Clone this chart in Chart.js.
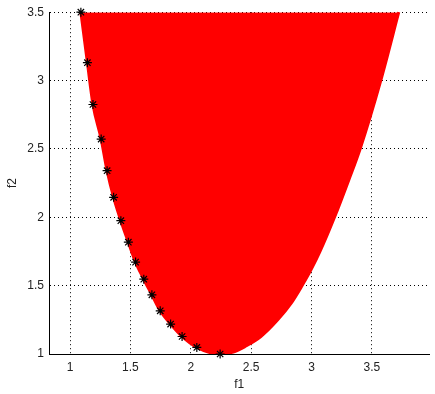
<!DOCTYPE html>
<html>
<head>
<meta charset="utf-8">
<script src="https://cdn.jsdelivr.net/npm/chart.js@4"></script>
<style>
  html, body { margin: 0; padding: 0; background: #fff; }
  #wrap { width: 435px; height: 394px; }
</style>
</head>
<body>
<div id="wrap"><canvas id="myChart"></canvas></div>
<script>
// Pareto front (black stars)
const frontF1 = [1.09, 1.144, 1.19, 1.258, 1.307, 1.361, 1.421, 1.483, 1.543, 1.611, 1.678, 1.747, 1.833, 1.928, 2.05, 2.243];
const frontF2 = [3.5, 3.131, 2.825, 2.572, 2.341, 2.146, 1.975, 1.818, 1.672, 1.547, 1.433, 1.316, 1.219, 1.128, 1.048, 1.0];

// right-hand edge of the red cloud of solutions (from the bottom up)
const cloudRightF1 = [2.37, 2.45, 2.58, 2.72, 2.83, 2.915, 2.995, 3.07, 3.19, 3.307, 3.402, 3.573, 3.722];
const cloudRightF2 = [1.02, 1.055, 1.128, 1.25, 1.37, 1.49, 1.615, 1.75, 2.0, 2.27, 2.5, 3.0, 3.5];

const xTicks = [1, 1.5, 2, 2.5, 3, 3.5];
const yTicks = [1, 1.5, 2, 2.5, 3, 3.5];

const toPoints = (xs, ys) => xs.map((x, i) => ({ x: x, y: ys[i] }));

const frontPts = toPoints(frontF1, frontF2);
const cloudEdge = frontPts.concat(toPoints(cloudRightF1, cloudRightF2));

const font = { family: "'Liberation Sans', Arial, sans-serif", size: 12 };

const config = {
    type: 'scatter',
    data: {
        datasets: [
            {
                data: frontPts,
                pointStyle: 'star',
                pointRadius: 4.5,
                pointBorderColor: '#000',
                pointBorderWidth: 1.2,
                showLine: false,
                clip: false
            },
            {
                data: cloudEdge,
                showLine: true,
                pointRadius: 0,
                borderColor: '#ff0000',
                borderWidth: 3,
                backgroundColor: '#ff0000',
                fill: 'end',
                cubicInterpolationMode: 'monotone',
                clip: { left: 0, top: 3, right: 0, bottom: 0 }
            }
        ]
    },
    options: {
        responsive: true,
        maintainAspectRatio: false,
        animation: false,
        events: [],
        layout: { padding: { top: 12, right: 0, left: 0, bottom: 0 } },
        plugins: {
            legend: { display: false },
            tooltip: { enabled: false }
        },
        scales: {
            x: {
                type: 'linear',
                min: 0.826,
                max: 3.975,
                afterBuildTicks: s => { s.ticks = xTicks.map(v => ({ value: v })); },
                afterFit: s => { s.height = 40; },
                ticks: {
                    callback: v => String(v),
                    color: '#222',
                    font: font,
                    padding: 6,
                    maxRotation: 0
                },
                grid: { color: '#000', lineWidth: 1, drawTicks: false },
                border: { display: true, color: '#000', width: 1, dash: [1, 3] },
                title: {
                    display: true, text: 'f1', color: '#222', font: font,
                    padding: { top: 0, bottom: 2 }
                }
            },
            y: {
                type: 'linear',
                min: 1,
                max: 3.5,
                afterBuildTicks: s => { s.ticks = yTicks.map(v => ({ value: v })); },
                afterFit: s => { s.width = 49; },
                ticks: {
                    callback: v => String(v),
                    color: '#222',
                    font: font,
                    padding: 5
                },
                grid: { color: '#000', lineWidth: 1, drawTicks: false },
                border: { display: true, color: '#000', width: 1, dash: [1, 3] },
                title: {
                    display: true, text: 'f2', color: '#222', font: font,
                    padding: { top: 5, bottom: 0 }
                }
            }
        }
    }
};

const myChart = new Chart(document.getElementById('myChart'), config);
</script>
</body>
</html>
